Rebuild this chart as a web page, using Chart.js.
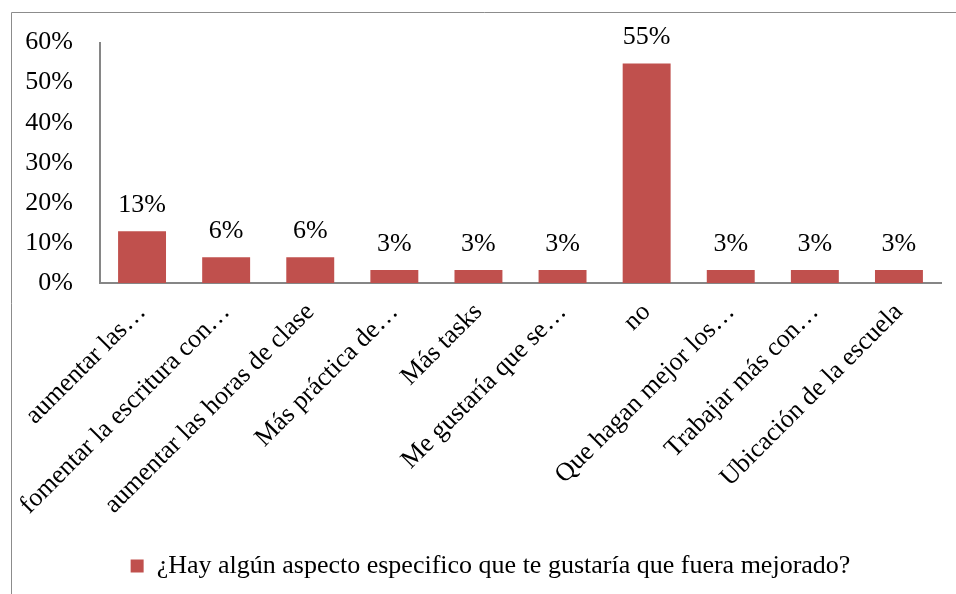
<!DOCTYPE html>
<html>
<head>
<meta charset="utf-8">
<script src="https://cdn.jsdelivr.net/npm/chart.js@4"></script>
<style>
  html, body { margin: 0; padding: 0; background: #fff; }
  #wrap { width: 956px; height: 594px; position: relative; }
</style>
</head>
<body>
<div id="wrap"><canvas id="chart" width="956" height="594"></canvas></div>
<script>
const CATEGORIES = [
  'aumentar las…',
  'fomentar la escritura con…',
  'aumentar las horas de clase',
  'Más práctica de…',
  'Más tasks',
  'Me gustaría que se…',
  'no',
  'Que hagan mejor los…',
  'Trabajar más con…',
  'Ubicación de la escuela',
];
const VALUES = [12.9, 6.45, 6.45, 3.23, 3.23, 3.23, 54.8, 3.23, 3.23, 3.23];
const Y_TICKS = [0, 10, 20, 30, 40, 50, 60];
const SERIES_NAME = '¿Hay algún aspecto especifico que te gustaría que fuera mejorado?';

const FONT = 'Liberation Serif';
const FONT_SIZE = 26;
const BAR_COLOR = '#C0504D';
const AXIS_COLOR = '#868686';

// chart frame (Excel-style border, cut off on the right and bottom)
const framePlugin = {
  id: 'frame',
  beforeDraw(chart) {
    const c = chart.ctx;
    c.save();
    c.strokeStyle = '#8c8c8c';
    c.lineWidth = 1;
    c.beginPath();
    c.moveTo(11.5, chart.height + 5);
    c.lineTo(11.5, 12.5);
    c.lineTo(chart.width + 5, 12.5);
    c.stroke();
    c.restore();
  },
  // nudge the legend to the right so it sits under the plot like the original
  afterLayout(chart) {
    chart.legend.left += 20;
    chart.legend.right += 20;
  },
};

// value labels above bars
const valueLabels = {
  id: 'valueLabels',
  afterDatasetsDraw(chart) {
    const c = chart.ctx;
    const meta = chart.getDatasetMeta(0);
    c.save();
    c.fillStyle = '#000';
    c.font = `${FONT_SIZE}px "${FONT}"`;
    c.textAlign = 'center';
    c.textBaseline = 'bottom';
    meta.data.forEach((bar, i) => {
      c.fillText(Math.round(VALUES[i]) + '%', bar.x, bar.y - 13);
    });
    c.restore();
  },
};

new Chart(document.getElementById('chart'), {
  type: 'bar',
  plugins: [framePlugin, valueLabels],
  data: {
    labels: CATEGORIES,
    datasets: [{
      label: SERIES_NAME,
      data: VALUES,
      backgroundColor: BAR_COLOR,
      categoryPercentage: 1,
      barPercentage: 0.57,
    }],
  },
  options: {
    responsive: false,
    animation: false,
    layout: { padding: { top: 42, right: 15, left: 0, bottom: 5 } },
    plugins: {
      legend: {
        position: 'bottom',
        labels: {
          color: '#000',
          font: { family: FONT, size: FONT_SIZE },
          boxWidth: 13,
          boxHeight: 13,
          padding: 10,
        },
      },
      tooltip: { enabled: false },
    },
    scales: {
      y: {
        min: 0,
        max: 60,
        afterBuildTicks: s => { s.ticks = Y_TICKS.map(v => ({ value: v })); },
        afterFit: s => { s.width = 100; },
        ticks: {
          color: '#000',
          font: { family: FONT, size: FONT_SIZE },
          padding: 27,
          callback: v => v + '%',
        },
        grid: { display: false, drawTicks: false },
        border: { color: AXIS_COLOR, width: 2 },
      },
      x: {
        afterFit: s => { s.height = 260; },
        ticks: {
          color: '#000',
          font: { family: FONT, size: FONT_SIZE },
          maxRotation: 45,
          minRotation: 45,
          padding: 14,
          autoSkip: false,
        },
        grid: { display: false, drawTicks: false },
        border: { color: AXIS_COLOR, width: 2 },
      },
    },
  },
});
</script>
</body>
</html>
